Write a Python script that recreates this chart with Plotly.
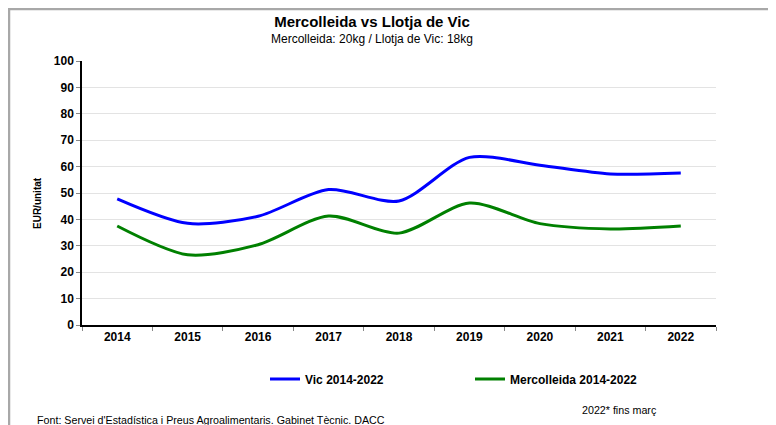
import plotly.graph_objects as go

years = ["2014", "2015", "2016", "2017", "2018", "2019", "2020", "2021", "2022"]
vic = [47.8, 38.5, 41.2, 51.3, 47.0, 63.5, 60.5, 57.2, 57.6]
mercolleida = [37.5, 26.6, 30.4, 41.3, 34.8, 46.2, 38.4, 36.4, 37.5]
y_ticks = [0, 10, 20, 30, 40, 50, 60, 70, 80, 90, 100]

# page body has an 8px margin; figure coordinates = screen - 8
OFF = 8
W, H = 768, 417
L, R, T, B = 74, 60, 53, 100
pw, ph = W - L - R, H - T - B

def px(x):  # screen x -> paper
    return (x - OFF - L) / pw

def py(y):  # screen y -> paper
    return (H - B - (y - OFF)) / ph

font = "Liberation Sans, Arial, sans-serif"
bold = dict(family=font, size=12, weight="bold", color="black")

fig = go.Figure()
fig.add_trace(go.Scatter(x=years, y=vic, mode="lines", name="Vic 2014-2022",
                         line=dict(color="#0000ff", width=3, shape="spline", smoothing=0.8)))
fig.add_trace(go.Scatter(x=years, y=mercolleida, mode="lines", name="Mercolleida 2014-2022",
                         line=dict(color="#008000", width=3, shape="spline", smoothing=0.8)))

fig.update_layout(
    width=W, height=H,
    margin=dict(l=L, r=R, t=T, b=B),
    paper_bgcolor="white", plot_bgcolor="white",
    font=dict(family=font, color="black"),
    title=dict(text="<b>Mercolleida vs Llotja de Vic</b>", x=(372 - OFF) / W, xref="container",
               xanchor="center", y=1 - (22 - OFF) / H, yanchor="middle", yref="container",
               font=dict(size=15, family=font)),
    showlegend=True,
    legend=dict(orientation="h", x=px(265), xanchor="left", y=py(379), yanchor="middle",
                font=bold, entrywidth=160, entrywidthmode="pixels",
                itemwidth=30, bgcolor="rgba(0,0,0,0)"),
    xaxis=dict(type="category", showline=True, linecolor="black", linewidth=1.5,
               ticks="outside", tickson="boundaries", ticklen=4, tickcolor="#888",
               tickfont=bold, showgrid=False, range=[-0.5, 8.5]),
    yaxis=dict(range=[0, 100], tickvals=y_ticks, showline=True, linecolor="black", linewidth=1.5,
               ticks="outside", ticklen=4, tickcolor="#888", tickfont=bold,
               showgrid=True, gridcolor="#e3e3e3", gridwidth=1, zeroline=False),
)

fig.add_annotation(text="<b>EUR/unitat</b>", xref="paper", yref="paper", x=px(37), y=py(203),
                   xanchor="center", yanchor="middle", textangle=-90, showarrow=False,
                   font=dict(size=10, family=font))
fig.add_annotation(text="Mercolleida: 20kg / Llotja de Vic: 18kg", xref="paper", yref="paper",
                   x=px(372), y=py(39), xanchor="center", yanchor="middle", showarrow=False,
                   font=dict(size=12, family=font))
fig.add_annotation(text="Font: Servei d'Estadística i Preus Agroalimentaris. Gabinet Tècnic. DACC",
                   xref="paper", yref="paper", x=px(35), y=py(420), xanchor="left", yanchor="middle",
                   showarrow=False, font=dict(size=10.7, family=font))
fig.add_annotation(text="2022* fins març", xref="paper", yref="paper", x=px(580), y=py(410),
                   xanchor="left", yanchor="middle", showarrow=False, font=dict(size=10.7, family=font))

# outer frame (top and left edges)
fig.add_shape(type="line", xref="paper", yref="paper", x0=px(8), x1=px(800), y0=py(9), y1=py(9),
              line=dict(color="#a8a8a8", width=2.5))
fig.add_shape(type="line", xref="paper", yref="paper", x0=px(9), x1=px(9), y0=py(8), y1=py(440),
              line=dict(color="#a8a8a8", width=2.5))

fig.write_html("out.html")
